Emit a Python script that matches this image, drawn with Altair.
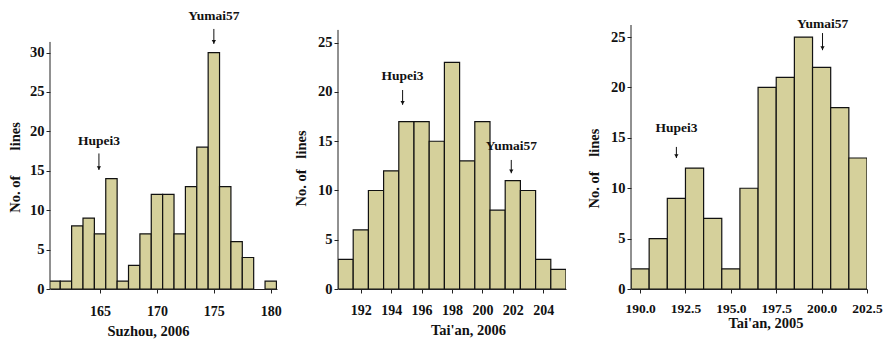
import altair as alt
import pandas as pd

# ---------------- data ----------------
suzhou_bins = list(range(161, 181))
suzhou_counts = [1, 1, 8, 9, 7, 14, 1, 3, 7, 12, 12, 7, 13, 18, 30, 13, 6, 4, 0, 1]

taian06_bins = list(range(191, 206))
taian06_counts = [3, 6, 10, 12, 17, 17, 15, 23, 13, 17, 8, 11, 10, 3, 2]

taian05_bins = list(range(190, 203))
taian05_counts = [2, 5, 9, 12, 7, 2, 10, 20, 21, 25, 22, 18, 13]

ann_labels = ["Hupei3", "Yumai57"]
suzhou_ann_x = [164.9, 175.0]
suzhou_ann_label_y = [18.8, 34.6]
suzhou_ann_arrow_top = [17.2, 33.0]
suzhou_ann_arrow_bot = [15.1, 31.1]

taian06_ann_x = [194.75, 201.9]
taian06_ann_label_y = [21.6, 14.5]
taian06_ann_arrow_top = [20.2, 13.1]
taian06_ann_arrow_bot = [18.7, 11.75]

taian05_ann_x = [192.0, 200.05]
taian05_ann_label_y = [16.0, 26.3]
taian05_ann_arrow_top = [14.1, 25.4]
taian05_ann_arrow_bot = [13.0, 23.7]

FONT = "Liberation Serif, Times New Roman, Times, serif"
FILL = "#d5d09b"
NB = "\u00a0"


def panel(bins, counts, xdom, xticks, xfmt, ydom, ytop, yticks,
          xtitle, ytitle, width, height, ann_x, ann_ly, ann_at, ann_ab,
          ytx, yty, xtx, xty, xlabpad, xlabsize):
    df = pd.DataFrame({
        "start": [b - 0.5 for b in bins],
        "end": [b + 0.5 for b in bins],
        "count": counts,
        "zero": [0] * len(bins),
    })
    df = df[df["count"] > 0]
    xs = alt.Scale(domain=xdom, nice=False, zero=False)
    ys = alt.Scale(domain=ydom, nice=False)
    bars = alt.Chart(df).mark_rect(
        fill=FILL, stroke="#111111", strokeWidth=1.2, clip=True
    ).encode(
        x=alt.X("start:Q", scale=xs, axis=alt.Axis(
            values=xticks, tickCount=len(xticks) + 2, format=xfmt, title=xtitle,
            grid=False, tickSize=4, labelPadding=xlabpad, labelOverlap=False,
            labelFlush=False, labelFontSize=xlabsize, titleX=xtx, titleY=xty,
            titleBaseline="middle", titleAlign="center")),
        x2="end:Q",
        y=alt.Y("count:Q", scale=ys, axis=alt.Axis(
            values=yticks, tickCount=len(yticks) + 2, title=ytitle, grid=False,
            domain=False, tickSize=4, labelPadding=2, labelOverlap=False,
            titleX=ytx, titleY=yty,
            titleAngle=270, titleBaseline="middle", titleAlign="center")),
        y2="zero:Q",
    )
    yline = alt.Chart(pd.DataFrame({"bottom": [0], "top": [ytop]})).mark_rule(
        color="#222222", strokeWidth=1
    ).encode(x=alt.value(0), y=alt.Y("bottom:Q", scale=ys), y2="top:Q")

    adf = pd.DataFrame({
        "label": ann_labels, "x": ann_x, "ly": ann_ly,
        "at": ann_at, "ab": ann_ab,
    })
    base = alt.Chart(adf)
    texts = base.mark_text(
        font=FONT, fontWeight="bold", fontSize=13.5, color="#111111",
        baseline="middle"
    ).encode(x=alt.X("x:Q", scale=xs), y=alt.Y("ly:Q", scale=ys), text="label:N")
    stems = base.mark_rule(color="#111111", strokeWidth=1).encode(
        x=alt.X("x:Q", scale=xs), y=alt.Y("at:Q", scale=ys), y2="ab:Q")
    heads = base.mark_point(
        shape="triangle-down", filled=True, size=18, color="#111111", opacity=1
    ).encode(x=alt.X("x:Q", scale=xs), y=alt.Y("ab:Q", scale=ys),
             yOffset=alt.value(-2))
    return alt.layer(bars, yline, stems, heads, texts).properties(
        width=width, height=height)


p1 = panel(suzhou_bins, suzhou_counts, [160.6, 180.55], [165, 170, 175, 180], "d",
           [0, 33.5], 31.35, [0, 5, 10, 15, 20, 25, 30],
           "Suzhou, 2006", "No. of" + NB * 7 + "lines", 227, 264,
           suzhou_ann_x, suzhou_ann_label_y, suzhou_ann_arrow_top, suzhou_ann_arrow_bot,
           -35, 142, 98, 42.7, 11, 14)
p2 = panel(taian06_bins, taian06_counts, [190.5, 205.5], [192, 194, 196, 198, 200, 202, 204], "d",
           [0, 26.8], 26.3, [0, 5, 10, 15, 20, 25],
           "Tai'an, 2006", "No. of" + NB * 3 + "lines", 228, 264,
           taian06_ann_x, taian06_ann_label_y, taian06_ann_arrow_top, taian06_ann_arrow_bot,
           -37, 143, 130, 41, 10, 14)
p3 = panel(taian05_bins, taian05_counts, [189.5, 202.5], [190, 192.5, 195, 197.5, 200, 202.5], ".1f",
           [0, 26.2], 26.2, [0, 5, 10, 15, 20, 25],
           "Tai'an, 2005", "No. of" + NB * 4 + "lines", 236, 264,
           taian05_ann_x, taian05_ann_label_y, taian05_ann_arrow_top, taian05_ann_arrow_bot,
           -37, 143, 134.5, 34, 8, 13.5)

chart = alt.hconcat(alt.hconcat(p1, p2, spacing=11), p3, spacing=20).properties(
    padding={"left": 7, "top": 9, "right": 0, "bottom": 0},
    background="white",
).configure_view(stroke=None).configure_axis(
    labelFont=FONT, titleFont=FONT, labelFontWeight="bold", titleFontWeight="bold",
    labelFontSize=14.5, titleFontSize=14.5, labelColor="#111111", titleColor="#111111",
    domainColor="#222222", tickColor="#222222", domainWidth=1, tickWidth=1,
)

chart.save("out.html", embed_options={"renderer": "svg", "actions": False})
